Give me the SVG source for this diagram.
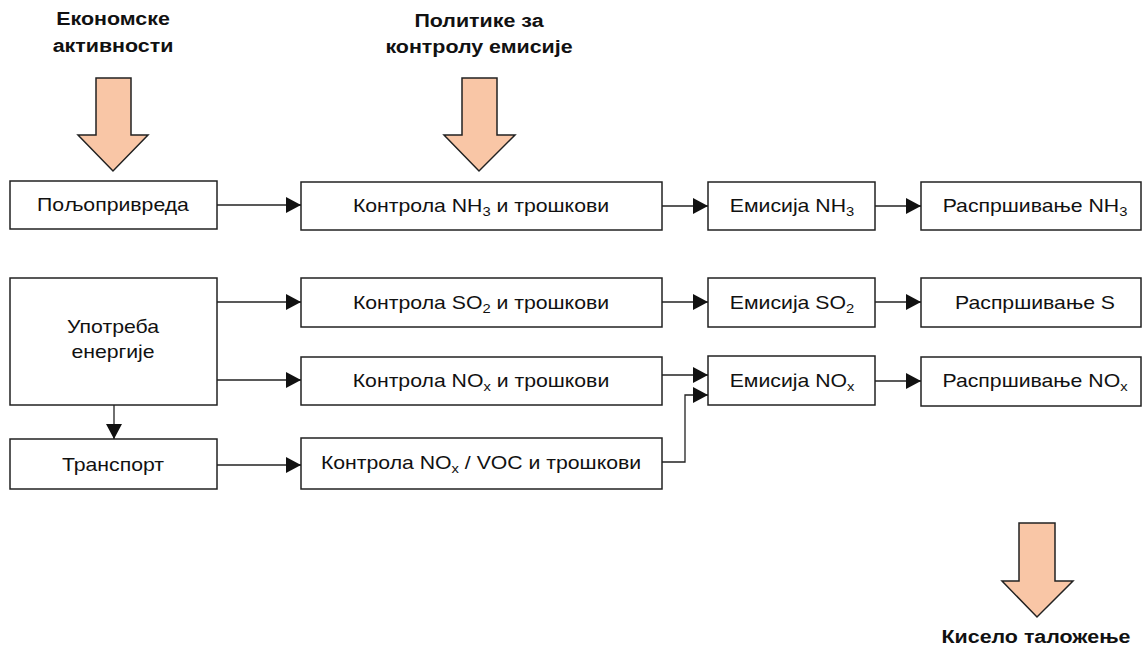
<svg xmlns="http://www.w3.org/2000/svg" width="1143" height="651" viewBox="0 0 1143 651">
  <style>
    .box { fill: #ffffff; stroke: #222222; stroke-width: 1.5; }
    .lbl { font-family: "Liberation Sans", Arial, sans-serif; font-size: 18px; fill: #111111; text-anchor: middle; }
    .ttl { font-family: "Liberation Sans", Arial, sans-serif; font-size: 18px; font-weight: bold; fill: #111111; text-anchor: middle; }
    .big { fill: #f9c6a6; stroke: #222222; stroke-width: 1.5; stroke-linejoin: miter; }
    .con { fill: none; stroke: #222222; stroke-width: 1.3; }
    .sub { font-size: 12.5px; }
  </style>
  <defs>
    <marker id="head" markerUnits="userSpaceOnUse" markerWidth="15" markerHeight="16" refX="15" refY="8" orient="auto">
      <path d="M0,0 L15,8 L0,16 z" fill="#111111"/>
    </marker>
  </defs>
  <rect width="1143" height="651" fill="#ffffff"/>

  <!-- headings with block arrows; text is set in a slightly widened face -->
  <g id="econ">
    <text class="ttl" transform="translate(113,25) scale(1.19,1)">Економске</text>
    <text class="ttl" transform="translate(113,52) scale(1.19,1)">активности</text>
    <polygon class="big" points="96,78 131,78 131,135 148,135 113,171 78,135 96,135"/>
  </g>
  <g id="policy">
    <text class="ttl" transform="translate(479,27) scale(1.19,1)">Политике за</text>
    <text class="ttl" transform="translate(479,53) scale(1.19,1)">контролу емисије</text>
    <polygon class="big" points="462,78 497,78 497,135 515,135 479,171 444,135 462,135"/>
  </g>
  <g id="acid">
    <polygon class="big" points="1019,523 1055,523 1055,581 1073,581 1037,617 1002,581 1019,581"/>
    <text class="ttl" transform="translate(1036,643) scale(1.19,1)">Кисело таложење</text>
  </g>

  <!-- sources -->
  <g id="agri">
    <rect class="box" x="10" y="181" width="207" height="48"/>
    <text class="lbl" transform="translate(113,211) scale(1.18,1)">Пољопривреда</text>
  </g>
  <g id="energy">
    <rect class="box" x="10" y="278" width="207" height="127"/>
    <text class="lbl" transform="translate(113,333) scale(1.18,1)">Употреба</text>
    <text class="lbl" transform="translate(113,358) scale(1.18,1)">енергије</text>
  </g>
  <g id="transport">
    <rect class="box" x="10" y="439" width="207" height="50"/>
    <text class="lbl" transform="translate(113,471) scale(1.18,1)">Транспорт</text>
  </g>

  <!-- control measures -->
  <g id="ctrl-nh3">
    <rect class="box" x="301" y="182" width="361" height="48"/>
    <text class="lbl" transform="translate(481,212) scale(1.18,1)">Контрола NH<tspan class="sub" dy="4">3</tspan><tspan dy="-4"> и трошкови</tspan></text>
  </g>
  <g id="ctrl-so2">
    <rect class="box" x="301" y="278" width="361" height="49"/>
    <text class="lbl" transform="translate(481,309) scale(1.18,1)">Контрола SO<tspan class="sub" dy="4">2</tspan><tspan dy="-4"> и трошкови</tspan></text>
  </g>
  <g id="ctrl-nox">
    <rect class="box" x="301" y="357" width="361" height="48"/>
    <text class="lbl" transform="translate(481,387) scale(1.18,1)">Контрола NO<tspan class="sub" dy="4">x</tspan><tspan dy="-4"> и трошкови</tspan></text>
  </g>
  <g id="ctrl-voc">
    <rect class="box" x="301" y="438" width="361" height="51"/>
    <text class="lbl" transform="translate(481,469) scale(1.18,1)">Контрола NO<tspan class="sub" dy="4">x</tspan><tspan dy="-4"> / VOC и трошкови</tspan></text>
  </g>

  <!-- emissions -->
  <g id="emis-nh3">
    <rect class="box" x="708" y="182" width="167" height="48"/>
    <text class="lbl" transform="translate(792,212) scale(1.18,1)">Емисија NH<tspan class="sub" dy="4">3</tspan></text>
  </g>
  <g id="emis-so2">
    <rect class="box" x="708" y="278" width="167" height="49"/>
    <text class="lbl" transform="translate(792,309) scale(1.18,1)">Емисија SO<tspan class="sub" dy="4">2</tspan></text>
  </g>
  <g id="emis-nox">
    <rect class="box" x="708" y="356" width="167" height="49"/>
    <text class="lbl" transform="translate(792,387) scale(1.18,1)">Емисија NO<tspan class="sub" dy="4">x</tspan></text>
  </g>

  <!-- dispersion -->
  <g id="disp-nh3">
    <rect class="box" x="921" y="182" width="220" height="48"/>
    <text class="lbl" transform="translate(1035,212) scale(1.18,1)">Распршивање NH<tspan class="sub" dy="4">3</tspan></text>
  </g>
  <g id="disp-s">
    <rect class="box" x="921" y="278" width="220" height="49"/>
    <text class="lbl" transform="translate(1035,309) scale(1.18,1)">Распршивање S</text>
  </g>
  <g id="disp-nox">
    <rect class="box" x="921" y="357" width="220" height="49"/>
    <text class="lbl" transform="translate(1035,387) scale(1.18,1)">Распршивање NO<tspan class="sub" dy="4">x</tspan></text>
  </g>

  <!-- connectors -->
  <g id="connectors">
    <line class="con" x1="217" y1="205" x2="301" y2="205" marker-end="url(#head)"/>
    <line class="con" x1="662" y1="206" x2="708" y2="206" marker-end="url(#head)"/>
    <line class="con" x1="875" y1="206" x2="921" y2="206" marker-end="url(#head)"/>
    <line class="con" x1="217" y1="302" x2="301" y2="302" marker-end="url(#head)"/>
    <line class="con" x1="662" y1="302" x2="708" y2="302" marker-end="url(#head)"/>
    <line class="con" x1="875" y1="302" x2="921" y2="302" marker-end="url(#head)"/>
    <line class="con" x1="217" y1="380" x2="301" y2="380" marker-end="url(#head)"/>
    <line class="con" x1="662" y1="375" x2="708" y2="375" marker-end="url(#head)"/>
    <line class="con" x1="875" y1="381" x2="921" y2="381" marker-end="url(#head)"/>
    <line class="con" x1="114" y1="405" x2="114" y2="439" marker-end="url(#head)"/>
    <line class="con" x1="217" y1="465" x2="301" y2="465" marker-end="url(#head)"/>
    <polyline class="con" points="662,462 685,462 685,395 708,395" marker-end="url(#head)"/>
  </g>
</svg>
